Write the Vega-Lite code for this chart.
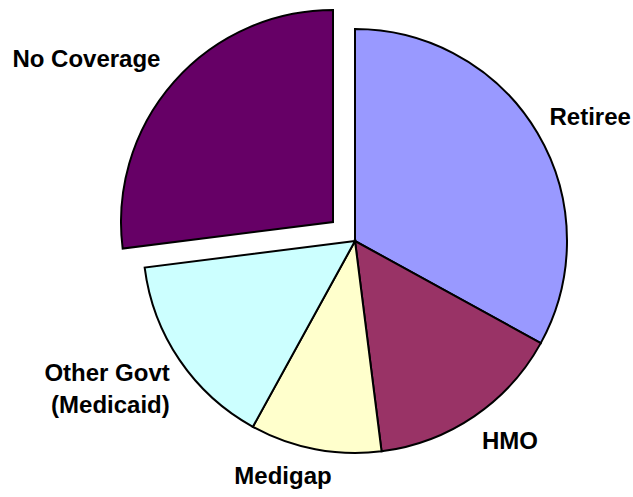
{
  "$schema": "https://vega.github.io/schema/vega-lite/v6.json",
  "width": 556,
  "height": 482,
  "autosize": "none",
  "padding": {"left": 77, "top": 0, "right": 0, "bottom": 15},
  "background": "white",
  "config": {"view": {"stroke": null}},
  "data": {"values": [
    {"label": "Retiree", "value": 33, "k": 1},
    {"label": "HMO", "value": 15, "k": 2},
    {"label": "Medigap", "value": 10, "k": 3},
    {"label": "Other Govt\n(Medicaid)", "value": 15, "k": 4},
    {"label": "No Coverage", "value": 27, "k": 5}
  ]},
  "encoding": {
    "theta": {"field": "value", "type": "quantitative", "stack": true},
    "order": {"field": "k", "type": "quantitative"}
  },
  "layer": [
    {
      "mark": {"type": "arc", "radius": 212, "stroke": "black", "strokeWidth": 2},
      "encoding": {
        "color": {"field": "label", "type": "nominal", "legend": null,
          "scale": {"domain": ["Retiree", "HMO", "Medigap", "Other Govt\n(Medicaid)", "No Coverage"],
                    "range": ["#9999FF", "#993366", "#FFFFCC", "#CCFFFF", "#660066"]}},
        "opacity": {"condition": {"test": "datum.label === 'No Coverage'", "value": 0}, "value": 1}
      }
    },
    {
      "mark": {"type": "arc", "radius": 212, "stroke": "black", "strokeWidth": 2, "xOffset": -22, "yOffset": -19},
      "encoding": {
        "color": {"field": "label", "type": "nominal", "legend": null},
        "opacity": {"condition": {"test": "datum.label === 'No Coverage'", "value": 1}, "value": 0}
      }
    },
    {
      "mark": {"type": "text", "radius": 226, "align": "left", "baseline": "middle", "dy": -8,
               "font": "Liberation Sans", "fontSize": 24, "fontWeight": "bold", "color": "black", "lineBreak": "\n"},
      "encoding": {
        "text": {"field": "label"},
        "opacity": {"condition": {"test": "datum.label === 'Retiree'", "value": 1}, "value": 0}
      }
    },
    {
      "mark": {"type": "text", "radius": 226, "align": "left", "baseline": "middle", "dy": 14,
               "font": "Liberation Sans", "fontSize": 24, "fontWeight": "bold", "color": "black", "lineBreak": "\n"},
      "encoding": {
        "text": {"field": "label"},
        "opacity": {"condition": {"test": "datum.label === 'HMO'", "value": 1}, "value": 0}
      }
    },
    {
      "mark": {"type": "text", "radius": 240, "align": "center", "baseline": "middle", "dx": -27,
               "font": "Liberation Sans", "fontSize": 24, "fontWeight": "bold", "color": "black", "lineBreak": "\n"},
      "encoding": {
        "text": {"field": "label"},
        "opacity": {"condition": {"test": "datum.label === 'Medigap'", "value": 1}, "value": 0}
      }
    },
    {
      "mark": {"type": "text", "radius": 224, "align": "right", "baseline": "middle", "dy": 7,
               "font": "Liberation Sans", "fontSize": 24, "fontWeight": "bold", "color": "black", "lineBreak": "\n", "lineHeight": 32},
      "encoding": {
        "text": {"field": "label"},
        "opacity": {"condition": {"test": "datum.label === 'Other Govt\\n(Medicaid)'", "value": 1}, "value": 0}
      }
    },
    {
      "mark": {"type": "text", "radius": 230, "align": "right", "baseline": "middle", "dy": -10, "xOffset": -22, "yOffset": -19,
               "font": "Liberation Sans", "fontSize": 24, "fontWeight": "bold", "color": "black", "lineBreak": "\n"},
      "encoding": {
        "text": {"field": "label"},
        "opacity": {"condition": {"test": "datum.label === 'No Coverage'", "value": 1}, "value": 0}
      }
    }
  ]
}
